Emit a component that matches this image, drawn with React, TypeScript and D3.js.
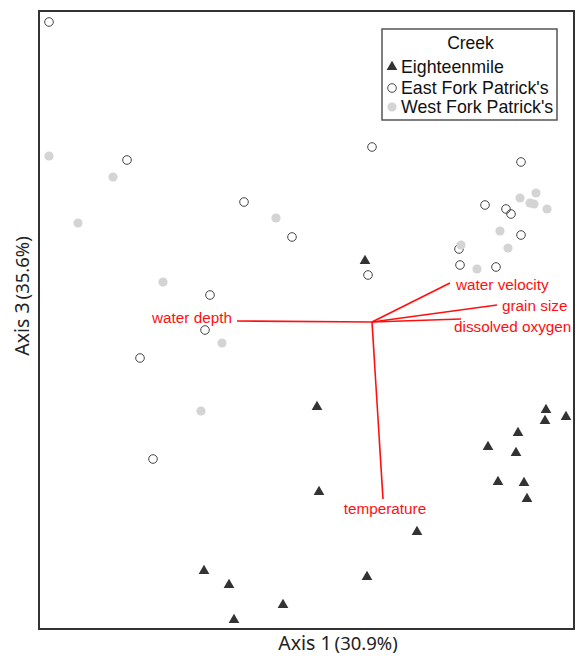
import React from "react";
import * as d3 from "d3";

// Ordination scores (Axis 1, Axis 3) per sample, grouped by creek
const eighteenmileX = [-0.07, -0.55, -0.53, 0.45, -1.68, -0.05, -1.43, -0.89, -1.38, 1.74, 1.73, 1.94, 1.46, 1.16, 1.44, 1.26, 1.52, 1.55];
const eighteenmileY = [0.61, -0.85, -1.7, -2.1, -2.49, -2.55, -2.63, -2.83, -2.98, -0.88, -0.99, -0.95, -1.11, -1.25, -1.31, -1.6, -1.61, -1.77];

const eastForkX = [-3.23, -2.45, -1.28, -0.8, 0.0, 1.49, 1.13, 1.34, 1.39, 1.49, 0.87, 0.88, 1.24, -0.04, -1.62, -1.67, -2.32, -2.19];
const eastForkY = [3.0, 1.62, 1.2, 0.85, 1.75, 1.6, 1.17, 1.13, 1.08, 0.87, 0.73, 0.57, 0.55, 0.47, 0.27, -0.08, -0.36, -1.37];

const westForkX = [-3.23, -2.59, -2.94, -0.96, 1.48, 1.64, 1.58, 1.62, 1.75, 1.28, 0.89, 1.36, 1.05, -2.09, -1.5, -1.71];
const westForkY = [1.66, 1.45, 0.99, 1.04, 1.24, 1.29, 1.19, 1.18, 1.13, 0.91, 0.77, 0.74, 0.53, 0.4, -0.21, -0.89];

// Environmental vectors (biplot arrows from the origin)
const vectorNames = ["water velocity", "grain size", "dissolved oxygen", "water depth", "temperature"];
const vectorX = [0.78, 1.25, 0.89, -1.35, 0.11];
const vectorY = [0.39, 0.17, 0.03, 0.01, -1.77];

const legendTitle = "Creek";
const creekNames = ["Eighteenmile", "East Fork Patrick's", "West Fork Patrick's"];

const xAxisLabel = ["Axis 1", "(30.9%)"];
const yAxisLabel = ["Axis 3", "(35.6%)"];

const W = 577;
const H = 656;
const frame = { left: 39, right: 574, top: 11, bottom: 629 };

// label anchoring relative to the vector tip: [dx, dy, text-anchor]
const vectorLabelPlacement: [number, number, string][] = [
  [6, 2, "start"],
  [5, 1, "start"],
  [-7, 8, "start"],
  [-5, -3, "end"],
  [2, 10, "middle"],
];

const markFont = "'Liberation Sans', Arial, sans-serif";
const axisFont = "'Noto Sans', 'Open Sans', sans-serif";

export default function App() {
  const x = d3.scaleLinear().domain([-3.33, 2.02]).range([frame.left, frame.right]);
  const y = d3.scaleLinear().domain([-3.07, 3.11]).range([frame.bottom, frame.top]);

  const tri = d3.symbol().type(d3.symbolTriangle).size(50)() as string;

  const east = eastForkX.map((v, i) => [v, eastForkY[i]]);
  const west = westForkX.map((v, i) => [v, westForkY[i]]);
  const eighteen = eighteenmileX.map((v, i) => [v, eighteenmileY[i]]);

  const ox = x(0);
  const oy = y(0);

  const legX = 382;
  const legY = 29;
  const legW = 175;
  const legH = 91;
  const rowY = [67, 88, 107];

  return (
    <svg
      width={W}
      height={H}
      style={{ position: "absolute", left: 0, top: 0, background: "#fff" }}
    >
      <rect x={0} y={0} width={W} height={H} fill="#fff" />

      {/* East Fork Patrick's: open circles */}
      {east.map((d, i) => (
        <circle key={"e" + i} cx={x(d[0])} cy={y(d[1])} r={4.3} fill="none" stroke="#444" strokeWidth={1} />
      ))}
      {/* West Fork Patrick's: light grey discs */}
      {west.map((d, i) => (
        <circle key={"w" + i} cx={x(d[0])} cy={y(d[1])} r={4.6} fill="#d4d4d4" />
      ))}
      {/* Eighteenmile: dark triangles */}
      {eighteen.map((d, i) => (
        <path key={"t" + i} d={tri} transform={`translate(${x(d[0])},${y(d[1])})`} fill="#333" />
      ))}

      {/* environmental vectors */}
      {vectorNames.map((n, i) => (
        <line key={"v" + i} x1={ox} y1={oy} x2={x(vectorX[i])} y2={y(vectorY[i])} stroke="#ff1010" strokeWidth={1.6} />
      ))}
      {vectorNames.map((n, i) => {
        const [dx, dy, anchor] = vectorLabelPlacement[i];
        return (
          <text
            key={"vl" + i}
            x={x(vectorX[i]) + dx}
            y={y(vectorY[i]) + dy}
            dy="0.35em"
            textAnchor={anchor}
            fontFamily={markFont}
            fontSize={15.3}
            fill="#ff1010"
          >
            {n}
          </text>
        );
      })}

      {/* plot frame */}
      <rect
        x={frame.left}
        y={frame.top}
        width={frame.right - frame.left}
        height={frame.bottom - frame.top}
        fill="none"
        stroke="#333"
        strokeWidth={2}
      />

      {/* legend */}
      <rect x={legX} y={legY} width={legW} height={legH} fill="#fff" stroke="#555" strokeWidth={1.5} />
      <text x={legX + legW / 2 + 1} y={43} dy="0.35em" textAnchor="middle" fontFamily={markFont} fontSize={17.5} fill="#111">
        {legendTitle}
      </text>
      <path d={tri} transform={`translate(392,${rowY[0]})`} fill="#333" />
      <circle cx={392} cy={rowY[1]} r={4.3} fill="none" stroke="#444" strokeWidth={1} />
      <circle cx={392} cy={rowY[2]} r={4.6} fill="#d4d4d4" />
      {creekNames.map((n, i) => (
        <text key={"lg" + i} x={401} y={rowY[i]} dy="0.35em" fontFamily={markFont} fontSize={17.8} fill="#111">
          {n}
        </text>
      ))}

      {/* axis titles */}
      <text x={338} y={650} textAnchor="middle" fontFamily={axisFont} fill="#222">
        <tspan fontSize={19.5}>{xAxisLabel[0]}</tspan>
        <tspan fontSize={18.5} dx={3}>{xAxisLabel[1]}</tspan>
      </text>
      <text
        transform={`translate(29,296) rotate(-90)`}
        textAnchor="middle"
        fontFamily={axisFont}
        fill="#222"
      >
        <tspan fontSize={19.5}>{yAxisLabel[0]}</tspan>
        <tspan fontSize={18.5} dx={3}>{yAxisLabel[1]}</tspan>
      </text>
    </svg>
  );
}
